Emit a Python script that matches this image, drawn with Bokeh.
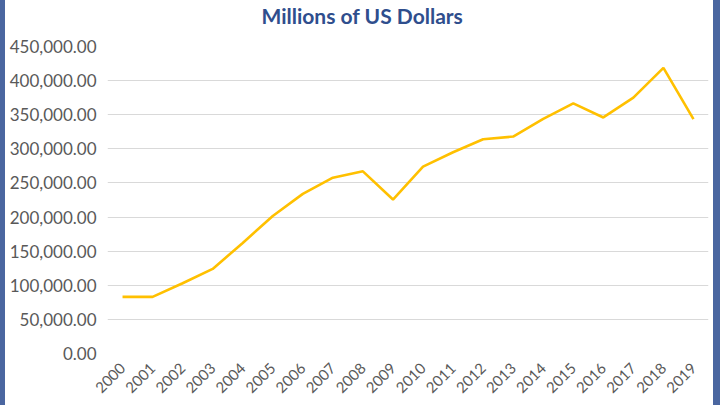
import math
from bokeh.plotting import figure
from bokeh.models import FactorRange, Range1d, NumeralTickFormatter, FixedTicker, Title
from bokeh.embed import file_html
from bokeh.resources import INLINE

years = [str(y) for y in range(2000, 2020)]
values = [83000, 83000, 103000, 124000, 162000, 201600, 234000, 257700, 267000, 225700,
          274000, 295000, 314000, 318000, 344000, 366700, 346000, 375000, 418600, 343500]
y_ticks = [0, 50000, 100000, 150000, 200000, 250000, 300000, 350000, 400000, 450000]

FONT = "Lato"
BLUE = "#4A66A0"
p = figure(width=720, height=405, output_backend="svg", toolbar_location=None,
           x_range=FactorRange(factors=years, range_padding=0),
           y_range=Range1d(0, 450000),
           min_border_left=102, min_border_right=17, min_border_top=44, min_border_bottom=52,
           title="Millions of US Dollars",
           styles={"border-left": f"5px solid {BLUE}", "border-right": f"7px solid {BLUE}",
                   "box-sizing": "border-box"})
p.title.align = "left"
p.title.offset = 154
p.title.standoff = 0
p.title.text_font = FONT
p.title.text_font_size = "21px"
p.title.text_font_style = "bold"
p.title.text_color = "#2F4E8D"
p.add_layout(Title(text=" ", text_font_size="15px", standoff=0), "above")

p.line(x=years, y=values, line_color="#FFC000", line_width=2.6)

p.outline_line_color = None
p.xgrid.grid_line_color = None
p.ygrid.grid_line_color = "#D9D9D9"
p.ygrid.grid_line_width = 1

p.yaxis.ticker = FixedTicker(ticks=y_ticks)
p.yaxis.formatter = NumeralTickFormatter(format="0,0.00")
for ax in (p.xaxis[0], p.yaxis[0]):
    ax.axis_line_color = None
    ax.major_tick_line_color = None
    ax.minor_tick_line_color = None
    ax.major_tick_out = 0
    ax.major_tick_in = 0
    ax.minor_tick_out = 0
    ax.minor_tick_in = 0
    ax.major_label_text_font = FONT
    ax.major_label_text_color = "#595959"
p.yaxis.major_label_text_font_size = "17px"
p.xaxis.major_label_text_font_size = "15px"
p.xaxis.major_label_orientation = math.pi / 4
p.yaxis.major_label_standoff = 11
p.xaxis.major_label_standoff = 12

open("out.html", "w").write(file_html(p, INLINE))
